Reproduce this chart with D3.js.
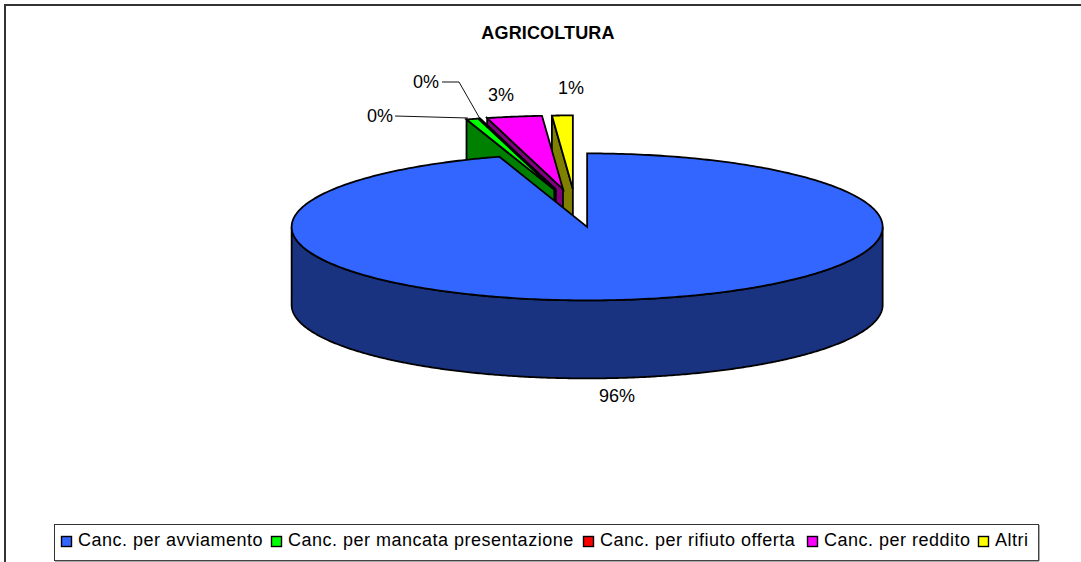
<!DOCTYPE html>
<html><head><meta charset="utf-8">
<script src="https://cdn.jsdelivr.net/npm/d3@7"></script>
<style>html,body{margin:0;padding:0;background:#fff}svg{display:block}text{font-family:"Liberation Sans",Arial,sans-serif;fill:#000}</style>
</head><body><svg id="c" width="1081" height="562"></svg>
<script>
const categories=["Canc. per avviamento","Canc. per mancata presentazione","Canc. per rifiuto offerta","Canc. per reddito","Altri"];
const values=[95.2,0.65,0.02,3.0,1.13];
const pctLabels=["96%","0%","0%","3%","1%"];
const topColors=["#3366FF","#00FF00","#FF0000","#FF00FF","#FFFF00"];
const wallColors=["#1A3380","#008000","#800000","#800080","#808000"];
const titleText="AGRICOLTURA";

const W=1081,H=562,cx=575.6,cy=208,rx=295.5,ry=73.5,depth=78,explode=0.26;
const svg=d3.select("#c");
svg.append("path").attr("d","M5,562V5H1081").attr("fill","none").attr("stroke","#333").attr("stroke-width",2);
svg.append("text").attr("x",548).attr("y",39).attr("text-anchor","middle").attr("font-weight","bold").attr("font-size",18).attr("letter-spacing",0.15).text(titleText);

const arcs=d3.pie().sort(null).startAngle(0).endAngle(2*Math.PI)(values);
const px=d3.scaleLinear().domain([-1,1]).range([-rx,rx]);
const py=d3.scaleLinear().domain([-1,1]).range([-ry,ry]);
const line=d3.line();
function geom(a){
  const mid=(a.startAngle+a.endAngle)/2;
  const ox=cx+px(Math.sin(mid)*explode), oy=cy+py(-Math.cos(mid)*explode);
  const pt=t=>[ox+px(Math.sin(t)),oy+py(-Math.cos(t))];
  return {ox,oy,pt};
}
function rim(a,g,n=120){return d3.range(n+1).map(i=>g.pt(a.startAngle+(a.endAngle-a.startAngle)*i/n));}
const order=[4,3,2,1,0];
const st=(s)=>s.attr("stroke","#000").attr("stroke-width",1.8).attr("stroke-linejoin","miter");
order.forEach(i=>{
  const a=arcs[i],g=geom(a);
  if(i===0){
    const pts=rim(a,g,400);
    const front=d3.range(401).map(k=>Math.PI/2+Math.PI*k/400).map(g.pt);
    const poly=front.concat(front.slice().reverse().map(p=>[p[0],p[1]+depth]));
    st(svg.append("path").attr("d",line(poly)+"Z").attr("fill",wallColors[i]));
    st(svg.append("path").attr("d",line([[g.ox,g.oy]].concat(pts))+"Z").attr("fill",topColors[i]));
  }else{
    const s=g.pt(a.startAngle);
    const wall=[[g.ox,g.oy],s,[s[0],s[1]+depth],[g.ox,g.oy+depth]];
    st(svg.append("path").attr("d",line(wall)+"Z").attr("fill",wallColors[i]));
    st(svg.append("path").attr("d",line([[g.ox,g.oy]].concat(rim(a,g,20)))+"Z").attr("fill",topColors[i]));
  }
});

const leaders=[[[395,116],[468,118]],[[442,82],[459,82],[479,117]]];
leaders.forEach(l=>svg.append("path").attr("d",line(l)).attr("fill","none").attr("stroke","#111").attr("stroke-width",1));
const labelPos=[[617,402],[380,122],[426,88],[501,101],[571,94]];
pctLabels.forEach((t,i)=>svg.append("text").attr("x",labelPos[i][0]).attr("y",labelPos[i][1]).attr("text-anchor","middle").attr("font-size",18).text(t));

svg.append("rect").attr("x",54.5).attr("y",524.5).attr("width",984).attr("height",36).attr("fill","#fff").attr("stroke","#333").attr("stroke-width",1);
svg.append("path").attr("d","M1039,525V561H55").attr("fill","none").attr("stroke","#555").attr("stroke-width",1);
const legX=[61,271,583,807,978];
categories.forEach((c,i)=>{
  svg.append("rect").attr("x",legX[i]+.5).attr("y",536.5).attr("width",10).attr("height",10).attr("fill",topColors[i]).attr("stroke","#000").attr("stroke-width",1.4);
  svg.append("text").attr("x",legX[i]+17).attr("y",546).attr("font-size",18).attr("letter-spacing",0.5).text(c);
});
</script></body></html>
